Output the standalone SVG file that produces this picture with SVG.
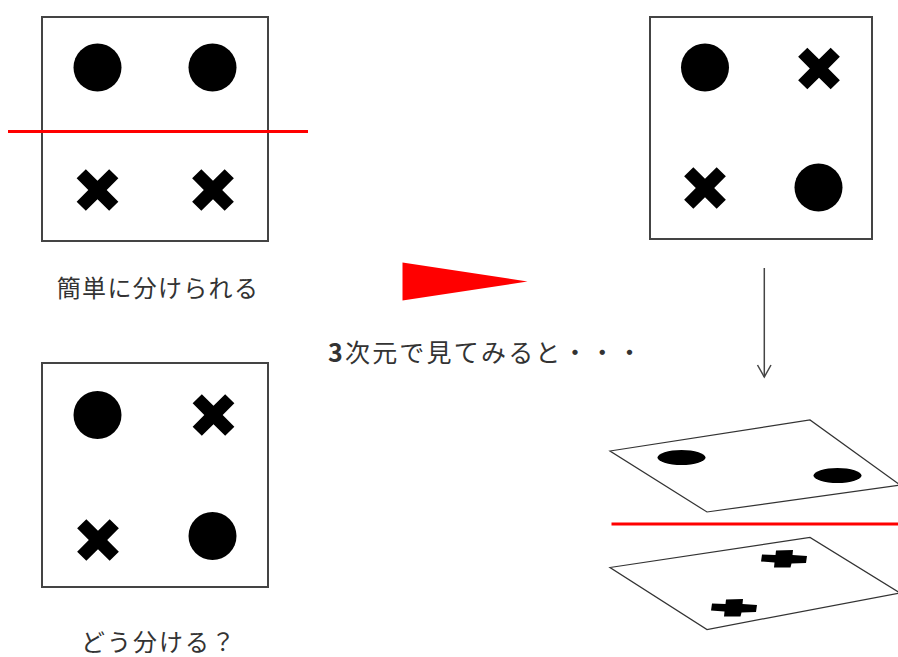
<svg xmlns="http://www.w3.org/2000/svg" width="898" height="657" viewBox="0 0 898 657">
<style>
.box{fill:#fff;stroke:#444;stroke-width:2}
.dot{fill:#000}
.plane{fill:#fff;stroke:#333;stroke-width:1.2}
.sep{stroke:#f00;stroke-width:3}
.lbl{font-family:"Noto Sans CJK JP","Noto Sans",sans-serif;fill:#333}
.conn{fill:none;stroke:#444;stroke-width:1.5}
</style>
<defs>
<path id="xm" d="M-6.5,-23 H6.5 V-6.5 H23 V6.5 H6.5 V23 H-6.5 V6.5 H-23 V-6.5 H-6.5 Z" transform="rotate(45)"/>
<path id="pl" d="M-8,-8.5 L9,-9 L8.5,-4 L23,-3 L22,4 L7.5,4.5 L6.5,8.5 L-10,8.5 L-9.5,3.5 L-23,2.5 L-22,-4.5 L-8.5,-4 Z"/>
</defs>
<rect width="898" height="657" fill="#fff"/>

<g id="box-easy">
<rect class="box" x="42" y="17" width="226" height="224"/>
<circle class="dot" cx="97.5" cy="67.5" r="24"/>
<circle class="dot" cx="212.5" cy="67.5" r="24"/>
<use href="#xm" x="97.5" y="190"/>
<use href="#xm" x="213" y="190"/>
</g>
<line id="line-easy" class="sep" x1="8" y1="131.5" x2="308" y2="131.5"/>
<text id="label-easy" class="lbl" x="158" y="297" font-size="24" letter-spacing="1.3" text-anchor="middle">簡単に分けられる</text>

<g id="box-hard">
<rect class="box" x="42" y="363" width="226" height="224"/>
<circle class="dot" cx="97.5" cy="415" r="24"/>
<circle class="dot" cx="212.5" cy="536" r="24"/>
<use href="#xm" x="213.5" y="415"/>
<use href="#xm" x="98" y="540"/>
</g>
<text id="label-hard" class="lbl" x="159" y="651" font-size="24" letter-spacing="2" text-anchor="middle">どう分ける？</text>

<g id="box-right">
<rect class="box" x="650" y="17" width="222" height="222"/>
<circle class="dot" cx="705" cy="67.5" r="24"/>
<circle class="dot" cx="818.5" cy="187.5" r="24"/>
<use href="#xm" x="819" y="68.5"/>
<use href="#xm" x="705" y="188"/>
</g>

<polygon id="big-arrow" points="402.5,262.5 527.5,281.5 402.5,300.5" fill="#f00"/>
<text id="label-3d" class="lbl" x="328" y="362" font-size="25" letter-spacing="2.2"><tspan font-weight="bold">3</tspan>次元で見てみると・・・</text>

<g id="connectors">
<line class="conn" x1="764.3" y1="268" x2="764.3" y2="377"/>
<polyline class="conn" points="757.5,365 764.3,377 771,365"/>
</g>

<g id="plane-top">
<polygon class="plane" points="610,451 810,420 900,485 707,512"/>
<ellipse class="dot" cx="681.5" cy="457.5" rx="24" ry="7.5"/>
<ellipse class="dot" cx="837.5" cy="475.5" rx="24" ry="7.5"/>
</g>
<line id="line-3d" class="sep" x1="611.5" y1="524" x2="898" y2="524"/>
<g id="plane-bottom">
<polygon class="plane" points="610,567.5 810,537.5 900,593 707,629.5"/>
<use href="#pl" x="784" y="559"/>
<use href="#pl" x="734" y="608"/>
</g>
</svg>
